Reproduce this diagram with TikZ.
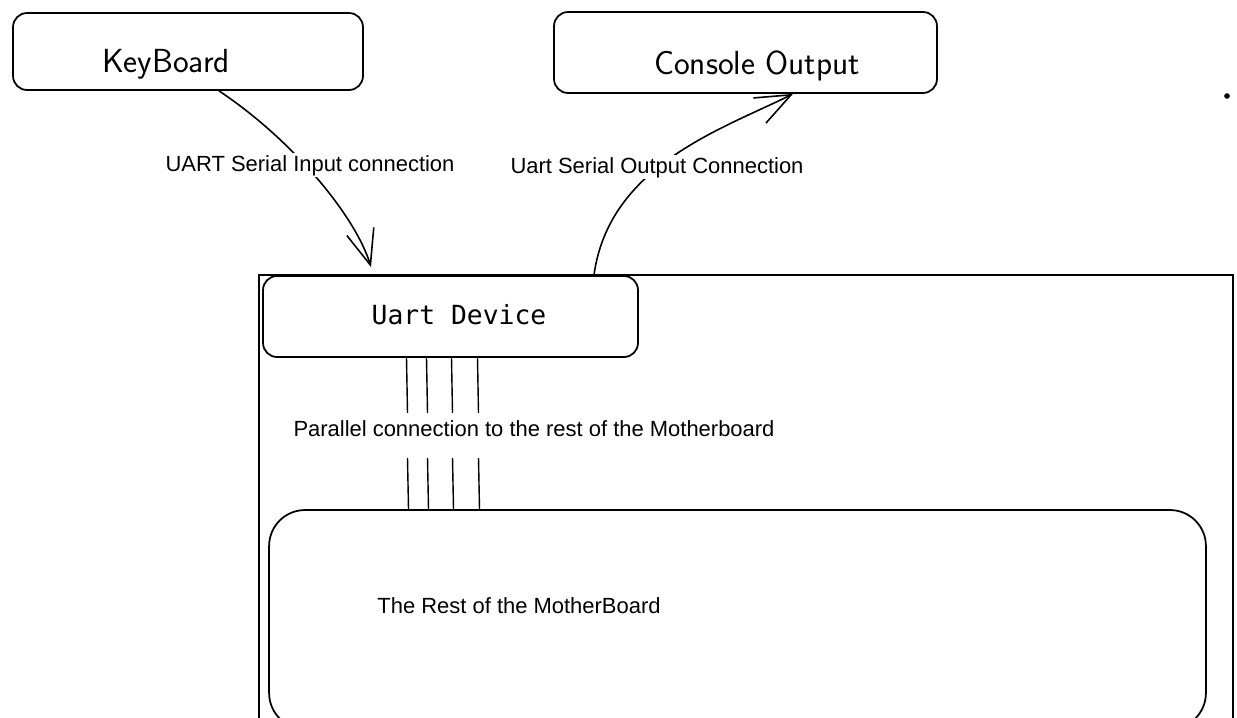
\documentclass[tikz,border=0pt]{standalone}
\usepackage{fontspec}
\setmainfont{Liberation Sans}
\setmonofont{DejaVu Sans Mono}
\usetikzlibrary{arrows.meta,calc}

\begin{document}
\begin{tikzpicture}[x=0.02cm, y=-0.02cm,
    box/.style={draw, line width=1pt, rounded corners=0.28cm, inner sep=0pt},
    hand/.style={font=\sffamily\fontsize{19}{21}\selectfont, anchor=base},
    lbl/.style={font=\fontsize{12.5}{14}\selectfont, anchor=base, fill=white, inner sep=1pt},
    conn/.style={line width=0.9pt, -{Straight Barb[length=20pt,width=16pt]}}]
    \useasboundingbox (0,0) rectangle (1237,717);

    \node[box, minimum width=7cm, minimum height=1.54cm] (kb) at (188,51.5) {};
    \node[hand] (kbtext) at (166,72) {KeyBoard};
    \node[box, minimum width=7.66cm, minimum height=1.62cm] (con) at (745.5,52.5) {};
    \node[hand] (context) at (757,74) {Console Output};

    % motherboard outline
    \draw[line width=1pt] (259,740) -- (259,275) -- (1233,275) -- (1233,740);

    \node[box, minimum width=7.5cm, minimum height=1.62cm] (uart) at (450.5,316.5) {};
    \node[font=\ttfamily\fontsize{15}{18}\selectfont, anchor=base] (uarttext) at (459,324) {Uart Device};
    \node[box, rounded corners=0.72cm, minimum width=18.74cm, minimum height=4.38cm] (rest) at (737.5,619.5) {};
    \node[lbl] (resttext) at (519,613) {The Rest of the MotherBoard};

    \draw[conn] ([xshift=0.62cm]kb.south) .. controls +(75,50) and +(-15,-50) .. ([xshift=-1.59cm,yshift=0.16cm]uart.north);
    \draw[conn] ([xshift=2.87cm]uart.north) .. controls +(15,-110) and +(-70,35) .. ([xshift=0.95cm]con.south);

    \node[lbl] (inlbl) at (310,171) {UART Serial Input connection};
    \node[lbl] (outlbl) at (657,173) {Uart Serial Output Connection};

    % parallel bus
    \foreach \dx in {-44,-24,1,27} {
        \draw[line width=0.8pt] ($(uart.south)+(\dx,0)$) -- ++(1,55);
        \draw[line width=0.8pt] ($(uart.south)+(\dx+1,100)$) -- ($(uart.south |- rest.north)+(\dx+2,0)$);
    }
    \node[lbl] (parlbl) at (534,436) {Parallel connection to the rest of the Motherboard};

    \fill (1227,96) circle (1.6pt);
\end{tikzpicture}
\end{document}
